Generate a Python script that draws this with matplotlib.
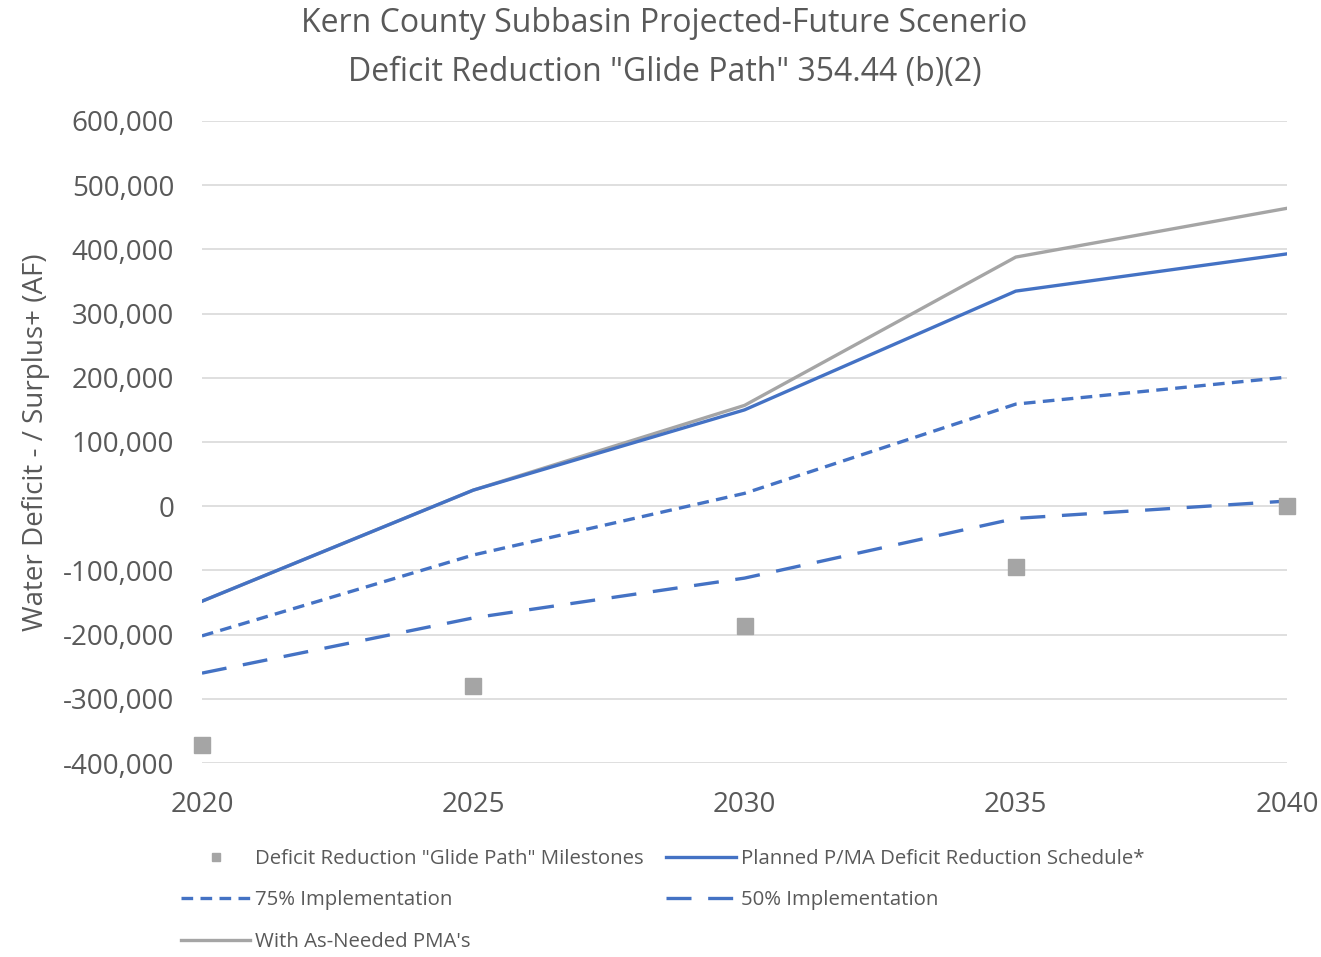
import matplotlib.pyplot as plt
from matplotlib.ticker import FuncFormatter

# values
years = [2020, 2025, 2030, 2035, 2040]
milestones = [-372000, -280000, -187000, -95000, 0]
planned = [-148000, 25000, 150000, 335000, 393000]
impl_75 = [-202000, -76000, 20000, 159000, 201000]
impl_50 = [-260000, -174000, -112000, -19000, 8000]
as_needed = [-148000, 25000, 157000, 388000, 464000]

blue = '#4472C4'
gray = '#A5A5A5'
text_col = '#595959'

plt.rcParams['font.family'] = ['Open Sans', 'DejaVu Sans']

fig = plt.figure(figsize=(13.21, 9.57), dpi=100)
ax = fig.add_axes([0.1529, 0.2027, 0.8214, 0.6709])

ax.plot(years, as_needed, color=gray, lw=2.4, label="With As-Needed PMA's", zorder=3)
ax.plot(years, planned, color=blue, lw=2.4, label='Planned P/MA Deficit Reduction Schedule*', zorder=4)
ax.plot(years, impl_75, color=blue, lw=2.4, dashes=(3.5, 2.2), label='75% Implementation', zorder=4)
ax.plot(years, impl_50, color=blue, lw=2.4, dashes=(7.5, 5), label='50% Implementation', zorder=4)
ax.plot(years, milestones, ls='none', marker='s', ms=12, color=gray, mec=gray,
        label='Deficit Reduction "Glide Path" Milestones', clip_on=False, zorder=5)

ax.set_xlim(2020, 2040)
ax.set_ylim(-400000, 600000)
ax.set_xticks(years)
ax.set_yticks(range(-400000, 600001, 100000))
ax.yaxis.set_major_formatter(FuncFormatter(lambda v, p: f'{int(v):,}'))
ax.grid(axis='y', color='#D9D9D9', lw=1.2)
ax.set_axisbelow(True)
for s in ax.spines.values():
    s.set_visible(False)
ax.tick_params(length=0, labelsize=20, labelcolor=text_col, pad=20)

ax.set_ylabel('Water Deficit - / Surplus+ (AF)', fontsize=20, color=text_col)
ax.yaxis.set_label_coords(-0.14, 0.5)

fig.text(0.503, 0.993, 'Kern County Subbasin Projected-Future Scenerio\nDeficit Reduction "Glide Path" 354.44 (b)(2)',
         ha='center', va='top', fontsize=23, color=text_col, linespacing=1.65)

# legend in excel order, column-major fill
h, l = ax.get_legend_handles_labels()
order = [4, 2, 0, 1, 3]
leg = fig.legend([h[i] for i in order], [l[i] for i in order], ncol=2,
                 loc='upper left', bbox_to_anchor=(0.123, 0.132), frameon=False,
                 handlelength=3.4, handletextpad=0.25, columnspacing=1.1,
                 labelspacing=1.05, markerscale=0.45, fontsize=14.7)
for t in leg.get_texts():
    t.set_color(text_col)

fig.savefig('out.png', dpi=100)
